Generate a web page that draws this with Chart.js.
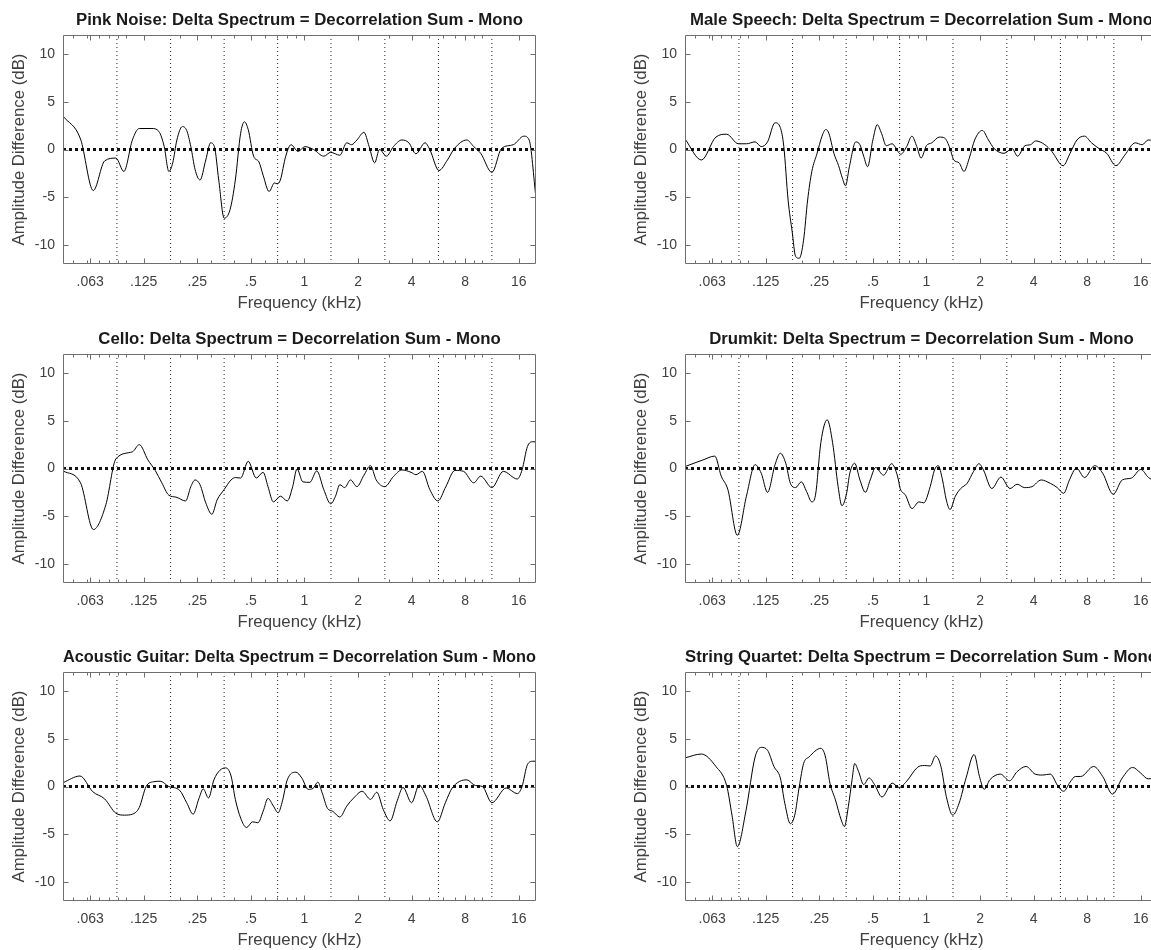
<!DOCTYPE html>
<html>
<head>
<meta charset="utf-8">
<script src="https://cdn.jsdelivr.net/npm/chart.js@4.4.0/dist/chart.umd.min.js"></script>
<style>
  html, body { margin: 0; padding: 0; background: #fff; }
  body { width: 1151px; height: 950px; overflow: hidden; position: relative; }
  canvas { position: absolute; }
</style>
</head>
<body>
<canvas id="c0" width="575" height="318" style="left:0px;top:0px"></canvas>
<canvas id="c1" width="575" height="318" style="left:622px;top:0px"></canvas>
<canvas id="c2" width="575" height="318" style="left:0px;top:319px"></canvas>
<canvas id="c3" width="575" height="318" style="left:622px;top:319px"></canvas>
<canvas id="c4" width="575" height="318" style="left:0px;top:637px"></canvas>
<canvas id="c5" width="575" height="318" style="left:622px;top:637px"></canvas>
<script>
// axis setup
const freqMin = 0.044;
const freqMax = 20;
const dbMin = -12;
const dbMax = 12;
const freqTicks = [0.0625, 0.125, 0.25, 0.5, 1, 2, 4, 8, 16];
const freqTickLabels = [".063", ".125", ".25", ".5", "1", "2", "4", "8", "16"];
const minorTicks = [0.05, 0.06, 0.07, 0.08, 0.09, 0.1, 0.2, 0.3, 0.4, 0.5, 0.6, 0.7, 0.8, 0.9,
  1, 2, 3, 4, 5, 6, 7, 8, 9, 10, 20];
const dbTicks = [-10, -5, 0, 5, 10];
// octave band edges (kHz)
const bandEdges = [0.0884, 0.177, 0.354, 0.707, 1.41, 2.83, 5.66, 11.3];

const titles = [
  "Pink Noise: Delta Spectrum = Decorrelation Sum - Mono",
  "Male Speech: Delta Spectrum = Decorrelation Sum - Mono",
  "Cello: Delta Spectrum = Decorrelation Sum - Mono",
  "Drumkit: Delta Spectrum = Decorrelation Sum - Mono",
  "Acoustic Guitar: Delta Spectrum = Decorrelation Sum - Mono",
  "String Quartet: Delta Spectrum = Decorrelation Sum - Mono"
];

// [frequency kHz, dB]
const pinkNoise = [[0.044,3.5],[0.0552,1.1],[0.0651,-4.3],[0.0754,-1.2],[0.0872,-0.9],[0.0967,-2.3],[0.108,1.0],[0.118,2.2],[0.139,2.2],[0.152,1.9],[0.163,0.3],[0.173,-2.3],[0.182,-1.4],[0.192,1.0],[0.206,2.4],[0.218,2.0],[0.230,0.3],[0.243,-2.1],[0.259,-3.2],[0.279,-1.1],[0.297,0.7],[0.312,0.3],[0.330,-3.2],[0.354,-7.2],[0.382,-6.3],[0.409,-3.2],[0.438,1.7],[0.460,2.9],[0.483,2.1],[0.518,-0.7],[0.555,-1.3],[0.586,-2.7],[0.633,-4.4],[0.679,-3.5],[0.702,-3.6],[0.732,-3.2],[0.785,-0.7],[0.841,0.5],[0.920,-0.2],[1.007,0.3],[1.125,0.0],[1.284,-0.7],[1.405,-0.3],[1.580,-0.6],[1.729,0.7],[1.840,0.5],[1.972,1.0],[2.16,1.8],[2.31,0.3],[2.48,-1.4],[2.64,0.0],[2.89,-0.7],[3.16,0.3],[3.53,1.0],[3.86,0.7],[4.23,-0.45],[4.76,0.7],[5.06,0.0],[5.70,-2.2],[6.36,-1.1],[6.96,0.1],[8.17,1.0],[8.94,0.3],[9.78,-0.4],[11.31,-2.4],[12.8,0.1],[14.9,0.5],[17.1,1.4],[18.3,1.0],[20,-5.1]];

const maleSpeech = [[0.044,1.1],[0.0544,-1.1],[0.0656,1.3],[0.0754,1.6],[0.0878,0.6],[0.0974,0.6],[0.109,0.8],[0.118,0.3],[0.128,0.8],[0.141,2.8],[0.151,2.3],[0.158,0.3],[0.167,-5.3],[0.176,-8.6],[0.184,-11.2],[0.193,-11.4],[0.204,-9.5],[0.215,-5.3],[0.227,-2.3],[0.243,-0.4],[0.259,1.4],[0.272,2.1],[0.283,1.7],[0.302,-0.4],[0.321,-1.7],[0.337,-3.0],[0.351,-3.8],[0.369,-1.8],[0.401,0.8],[0.423,0.5],[0.444,-0.7],[0.467,-1.8],[0.5,1.0],[0.529,2.6],[0.559,1.7],[0.595,0.4],[0.642,0.6],[0.669,0.25],[0.717,-0.5],[0.774,0.3],[0.829,1.4],[0.883,0.3],[0.933,-0.9],[1.0,0.4],[1.072,0.7],[1.181,1.3],[1.266,1.2],[1.357,0.1],[1.424,-1.1],[1.526,-1.4],[1.625,-2.3],[1.741,-0.9],[1.866,1.0],[2.06,2.0],[2.23,1.0],[2.40,0.1],[2.73,-0.4],[3.03,0.1],[3.25,-0.7],[3.58,0.4],[3.84,0.5],[4.11,0.9],[4.63,0.5],[5.06,-0.2],[5.86,-1.7],[6.41,-0.4],[7.01,1.0],[7.73,1.4],[8.46,0.7],[9.32,0.1],[10.3,-0.4],[11.6,-1.7],[13.0,-0.6],[14.9,0.7],[16.3,0.5],[17.6,1.0],[20,0.8]];

const cello = [[0.044,-0.25],[0.0552,-1.5],[0.0652,-6.4],[0.0766,-3.8],[0.0872,1.0],[0.108,1.75],[0.118,2.5],[0.132,0.9],[0.145,-0.2],[0.158,-1.5],[0.173,-2.8],[0.190,-3.0],[0.215,-3.4],[0.230,-1.9],[0.243,-1.2],[0.259,-1.7],[0.279,-3.6],[0.302,-4.8],[0.323,-3.3],[0.354,-2.2],[0.387,-1.2],[0.409,-0.95],[0.438,-1.0],[0.483,0.75],[0.536,-1.0],[0.586,-0.4],[0.624,-1.9],[0.669,-3.5],[0.732,-2.9],[0.801,-3.4],[0.859,-1.9],[0.908,-0.05],[0.980,-1.4],[1.072,-1.45],[1.173,-0.25],[1.284,-2.2],[1.405,-3.7],[1.495,-2.9],[1.580,-1.7],[1.682,-2.0],[1.815,-1.2],[1.972,-1.9],[2.16,-0.7],[2.35,0.3],[2.53,-1.2],[2.83,-1.9],[3.16,-0.85],[3.53,-0.15],[3.97,-0.4],[4.23,-0.65],[4.60,-0.3],[5.06,-2.2],[5.62,-3.4],[6.23,-1.9],[7.01,-0.2],[7.84,-0.3],[8.94,-1.5],[9.78,-0.8],[11.3,-2.0],[13.1,-0.3],[15.7,-1.1],[16.7,-0.15],[17.9,2.3],[19.2,2.8],[20,2.8]];

const drumkit = [[0.044,0.2],[0.0556,0.9],[0.0647,1.3],[0.0703,-0.8],[0.0766,-2.2],[0.0866,-7.0],[0.0974,-2.9],[0.109,0.4],[0.118,-0.5],[0.128,-2.5],[0.141,0.4],[0.151,1.6],[0.162,0.55],[0.172,-1.55],[0.184,-2.0],[0.198,-1.4],[0.212,-2.4],[0.227,-3.5],[0.238,-2.8],[0.255,2.7],[0.277,5.1],[0.297,2.7],[0.319,-1.9],[0.335,-3.9],[0.356,-2.6],[0.371,-0.5],[0.395,0.55],[0.423,-1.2],[0.454,-2.5],[0.483,-1.2],[0.518,0.1],[0.574,-0.7],[0.637,0.5],[0.688,-0.8],[0.712,-2.1],[0.763,-2.8],[0.829,-4.2],[0.908,-3.5],[0.966,-3.6],[1.050,-1.9],[1.110,-0.15],[1.165,0.3],[1.231,-1.2],[1.293,-3.3],[1.357,-4.3],[1.454,-2.9],[1.558,-2.1],[1.693,-1.55],[1.840,-0.3],[1.972,0.5],[2.09,-0.15],[2.33,-2.1],[2.62,-0.9],[2.95,-2.1],[3.23,-1.65],[3.56,-2.0],[3.92,-1.9],[4.41,-1.2],[4.96,-1.55],[5.43,-2.0],[5.90,-2.6],[6.36,-1.2],[6.96,0.05],[7.73,-0.95],[8.82,0.3],[9.78,-0.5],[11.2,-2.7],[12.6,-1.2],[14.2,-1.0],[16,-0.1],[17.7,-0.95],[20,-1.5]];

const acousticGuitar = [[0.044,0.4],[0.0548,1.1],[0.0647,-0.55],[0.0754,-1.3],[0.0872,-2.8],[0.0974,-3.0],[0.108,-2.9],[0.118,-2.2],[0.129,0.0],[0.142,0.5],[0.155,0.55],[0.173,0.0],[0.199,-0.4],[0.218,-1.7],[0.237,-2.9],[0.255,-1.3],[0.270,-0.25],[0.289,-1.2],[0.310,0.7],[0.335,1.7],[0.361,1.95],[0.387,1.1],[0.409,-1.35],[0.438,-3.3],[0.473,-4.3],[0.511,-3.7],[0.548,-3.8],[0.586,-2.6],[0.624,-1.25],[0.669,-2.05],[0.712,-2.75],[0.748,-1.7],[0.801,0.7],[0.895,1.5],[0.966,0.9],[1.050,-0.3],[1.117,-0.2],[1.189,0.45],[1.257,-0.65],[1.348,-2.3],[1.444,-2.6],[1.580,-3.2],[1.729,-2.05],[1.892,-1.2],[2.11,-0.5],[2.35,-1.35],[2.55,-0.6],[2.77,-2.4],[3.03,-3.6],[3.32,-1.5],[3.58,-0.1],[4.0,-1.7],[4.41,0.15],[4.82,-1.0],[5.58,-3.7],[6.19,-1.7],[6.77,-0.15],[8.17,0.7],[9.13,0.1],[9.99,0.0],[11.3,-1.7],[13.6,-0.15],[15.7,-0.75],[16.7,0.0],[17.9,2.3],[19.2,2.65],[20,2.65]];

const stringQuartet = [[0.044,3.0],[0.0544,3.4],[0.0656,2.1],[0.0754,0.1],[0.0808,-3.0],[0.0866,-6.3],[0.0967,-2.6],[0.109,3.1],[0.118,4.1],[0.128,3.8],[0.139,2.1],[0.151,0.9],[0.160,-1.75],[0.172,-3.9],[0.182,-3.0],[0.193,0.0],[0.204,2.4],[0.219,3.1],[0.255,4.0],[0.270,3.2],[0.287,0.35],[0.308,-1.4],[0.332,-3.5],[0.346,-4.2],[0.364,-2.1],[0.382,0.7],[0.395,2.4],[0.415,1.6],[0.444,0.2],[0.476,0.9],[0.511,0.2],[0.563,-1.1],[0.642,0.35],[0.702,-0.1],[0.774,0.55],[0.889,2.0],[0.973,2.2],[1.050,2.15],[1.125,3.2],[1.206,2.1],[1.293,-1.05],[1.405,-3.0],[1.526,-1.75],[1.670,0.9],[1.853,3.35],[1.986,1.05],[2.11,-0.3],[2.27,0.7],[2.60,1.3],[2.93,0.6],[3.23,1.55],[3.63,2.1],[4.08,1.3],[4.50,1.2],[4.96,1.3],[5.50,0.0],[5.90,-0.5],[6.41,0.45],[6.87,1.05],[7.36,1.05],[8.70,2.1],[9.78,1.05],[11.1,-0.8],[12.6,0.9],[14.4,2.0],[16,1.4],[17.6,0.8],[20,1.0]];

const series = [pinkNoise, maleSpeech, cello, drumkit, acousticGuitar, stringQuartet];

const textColor = "#404040";
const boxColor = "#6e6e6e";
Chart.defaults.font.family = "'Liberation Sans', Arial, sans-serif";

// MATLAB style box with inward ticks on all four sides
const boxTicks = {
  id: "boxTicks",
  afterDatasetsDraw(chart) {
    const { ctx, chartArea: a, scales: { x, y } } = chart;
    const L = Math.round(a.left) + 0.5, R = Math.round(a.right) - 0.5;
    const T = Math.round(a.top) + 0.5, B = Math.round(a.bottom) - 0.5;
    ctx.save();
    ctx.strokeStyle = boxColor;
    ctx.lineWidth = 1;
    ctx.beginPath();
    ctx.rect(L, T, R - L, B - T);
    const vTick = (v, len) => {
      const px = Math.round(x.getPixelForValue(v)) + 0.5;
      if (px < L || px > R) return;
      ctx.moveTo(px, B); ctx.lineTo(px, B - len);
      ctx.moveTo(px, T); ctx.lineTo(px, T + len);
    };
    freqTicks.forEach(v => vTick(v, 5));
    minorTicks.forEach(v => vTick(v, 3));
    dbTicks.forEach(v => {
      const py = Math.round(y.getPixelForValue(v)) + 0.5;
      ctx.moveTo(L, py); ctx.lineTo(L + 5, py);
      ctx.moveTo(R, py); ctx.lineTo(R - 5, py);
    });
    ctx.stroke();
    ctx.restore();
  }
};

function makeChart(i) {
  const datasets = [
    {
      data: series[i].map(p => ({ x: p[0], y: p[1] })),
      borderColor: "#000",
      borderWidth: 1,
      pointRadius: 0,
      cubicInterpolationMode: "monotone"
    },
    {
      data: [{ x: freqMin, y: 0 }, { x: freqMax, y: 0 }],
      borderColor: "#111",
      borderWidth: 3,
      borderDash: [3, 3],
      pointRadius: 0
    }
  ];
  bandEdges.forEach(e => {
    datasets.push({
      data: [{ x: e, y: dbMin }, { x: e, y: dbMax }],
      borderColor: "#222",
      borderWidth: 1,
      borderDash: [1, 3],
      pointRadius: 0
    });
  });

  return new Chart(document.getElementById("c" + i), {
    type: "line",
    data: { datasets: datasets },
    plugins: [boxTicks],
    options: {
      responsive: false,
      animation: false,
      devicePixelRatio: 1,
      layout: { padding: { left: 0, right: 39, top: 0, bottom: 0 } },
      plugins: {
        legend: { display: false },
        tooltip: { enabled: false },
        title: {
          display: true,
          text: titles[i],
          fullSize: false,
          color: "#1a1a1a",
          font: { size: 16.8, weight: "bold" },
          padding: { top: 10.6, bottom: 4.24 }
        }
      },
      scales: {
        x: {
          type: "logarithmic",
          min: freqMin,
          max: freqMax,
          afterBuildTicks: s => { s.ticks = freqTicks.map(v => ({ value: v })); },
          afterFit: s => { s.height = 54; },
          grid: { display: false, drawTicks: false },
          border: { display: false },
          ticks: {
            autoSkip: false,
            maxRotation: 0,
            padding: 10,
            color: textColor,
            font: { size: 14 },
            callback: (v, idx) => freqTickLabels[idx]
          },
          title: {
            display: true,
            text: "Frequency (kHz)",
            color: textColor,
            font: { size: 16.8 },
            padding: { top: 0, bottom: 5 }
          }
        },
        y: {
          min: dbMin,
          max: dbMax,
          afterBuildTicks: s => { s.ticks = dbTicks.map(v => ({ value: v })); },
          afterFit: s => { s.width = 63; },
          grid: { display: false, drawTicks: false },
          border: { display: false },
          ticks: {
            padding: 8,
            color: textColor,
            font: { size: 14 }
          },
          title: {
            display: true,
            text: "Amplitude Difference (dB)",
            color: textColor,
            font: { size: 16.8 },
            padding: { top: 9.6, bottom: 0 }
          }
        }
      }
    }
  });
}

for (let i = 0; i < 6; i++) makeChart(i);
</script>
</body>
</html>
